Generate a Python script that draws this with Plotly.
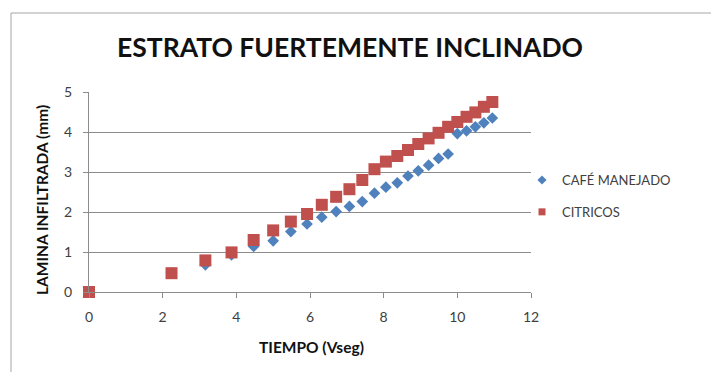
import plotly.graph_objects as go

# Square root of elapsed time (shared by both series)
tiempo = [0, 2.24, 3.16, 3.87, 4.47, 5.00, 5.48, 5.92, 6.32, 6.71, 7.07, 7.42, 7.75,
          8.06, 8.37, 8.66, 8.94, 9.22, 9.49, 9.75, 10.00, 10.25, 10.49, 10.72, 10.95]

cafe_manejado = [0, 0.48, 0.68, 0.93, 1.14, 1.28, 1.51, 1.70, 1.87, 2.01, 2.14, 2.26, 2.47,
                 2.62, 2.73, 2.90, 3.03, 3.17, 3.34, 3.45, 3.96, 4.03, 4.13, 4.23, 4.35]

citricos = [0, 0.47, 0.79, 0.99, 1.30, 1.54, 1.76, 1.95, 2.18, 2.38, 2.57, 2.80, 3.07,
            3.26, 3.40, 3.55, 3.70, 3.84, 3.98, 4.13, 4.25, 4.38, 4.49, 4.63, 4.75]

x_ticks = [0, 2, 4, 6, 8, 10, 12]
y_ticks = [0, 1, 2, 3, 4, 5]

FONT = "Lato"
BLUE = "#4F81BD"
RED = "#C0504D"
GRID = "#8C8C8C"
TICK_TEXT = "#404040"

fig = go.Figure()
fig.add_trace(go.Scatter(
    x=tiempo, y=cafe_manejado, mode="markers", name="CAFÉ MANEJADO",
    marker=dict(symbol="diamond", size=9, color=BLUE, line=dict(width=0)),
    cliponaxis=False, showlegend=False,
))
fig.add_trace(go.Scatter(
    x=tiempo, y=citricos, mode="markers", name="CITRICOS",
    marker=dict(symbol="square", size=12, color=RED, line=dict(width=0)),
    cliponaxis=False, showlegend=False,
))
# Legend entries with smaller symbols
fig.add_trace(go.Scatter(
    x=[None], y=[None], mode="markers", name="CAFÉ MANEJADO", legendgroup="a",
    marker=dict(symbol="diamond", size=7, color=BLUE, line=dict(width=0)),
))
fig.add_trace(go.Scatter(
    x=[None], y=[None], mode="markers", name="CITRICOS", legendgroup="b",
    marker=dict(symbol="square", size=7, color=RED, line=dict(width=0)),
))

L, R, T, B = 89, 180, 92, 80
W, H = 711, 372
pw, ph = W - L - R, H - T - B

def px_x(p):
    return (p - L) / pw

def px_y(p):
    return (H - B - p) / ph

fig.update_layout(
    width=W, height=H,
    margin=dict(l=L, r=R, t=T, b=B, pad=0),
    paper_bgcolor="white", plot_bgcolor="white",
    font=dict(family=FONT, color=TICK_TEXT),
    title=dict(text="<b>ESTRATO FUERTEMENTE INCLINADO</b>",
               font=dict(family=FONT, size=26.5, color="#111111"),
               x=350 / W, xref="container", xanchor="center",
               y=1 - 48 / H, yref="container", yanchor="middle"),
    showlegend=True,
    legend=dict(x=px_x(522), y=px_y(165), xanchor="left", yanchor="top",
                font=dict(family=FONT, size=13, color=TICK_TEXT),
                bgcolor="rgba(0,0,0,0)", tracegroupgap=12, itemsizing="trace"),
    xaxis=dict(range=[0, 12], tickvals=x_ticks, showgrid=False, zeroline=False,
               showline=True, linecolor=GRID, linewidth=1,
               ticks="outside", ticklen=5, tickcolor=GRID, ticklabelstandoff=7,
               tickfont=dict(family=FONT, size=14, color=TICK_TEXT),
               fixedrange=True),
    yaxis=dict(range=[0, 5], tickvals=y_ticks, showgrid=True, gridcolor=GRID, gridwidth=1,
               zeroline=False, showline=True, linecolor=GRID, linewidth=1,
               ticks="outside", ticklen=5, tickcolor=GRID, ticklabelstandoff=8,
               tickfont=dict(family=FONT, size=14, color=TICK_TEXT),
               fixedrange=True),
    annotations=[
        dict(text="<b>TIEMPO (Vseg)</b>", xref="paper", yref="paper",
             x=px_x(311), y=px_y(347), xanchor="center", yanchor="middle",
             showarrow=False, font=dict(family=FONT, size=15.5, color="#111111")),
        dict(text="<b>LAMINA INFILTRADA (mm)</b>", xref="paper", yref="paper",
             x=px_x(42), y=px_y(200), xanchor="center", yanchor="middle",
             textangle=-90, showarrow=False,
             font=dict(family=FONT, size=15.5, color="#111111")),
    ],
    shapes=[
        dict(type="rect", xref="paper", yref="paper",
             x0=px_x(11), x1=px_x(720), y0=px_y(13), y1=px_y(380),
             line=dict(color="#A6A6A6", width=1), fillcolor="rgba(0,0,0,0)",
             layer="below"),
    ],
)

fig.write_html("out.html")
